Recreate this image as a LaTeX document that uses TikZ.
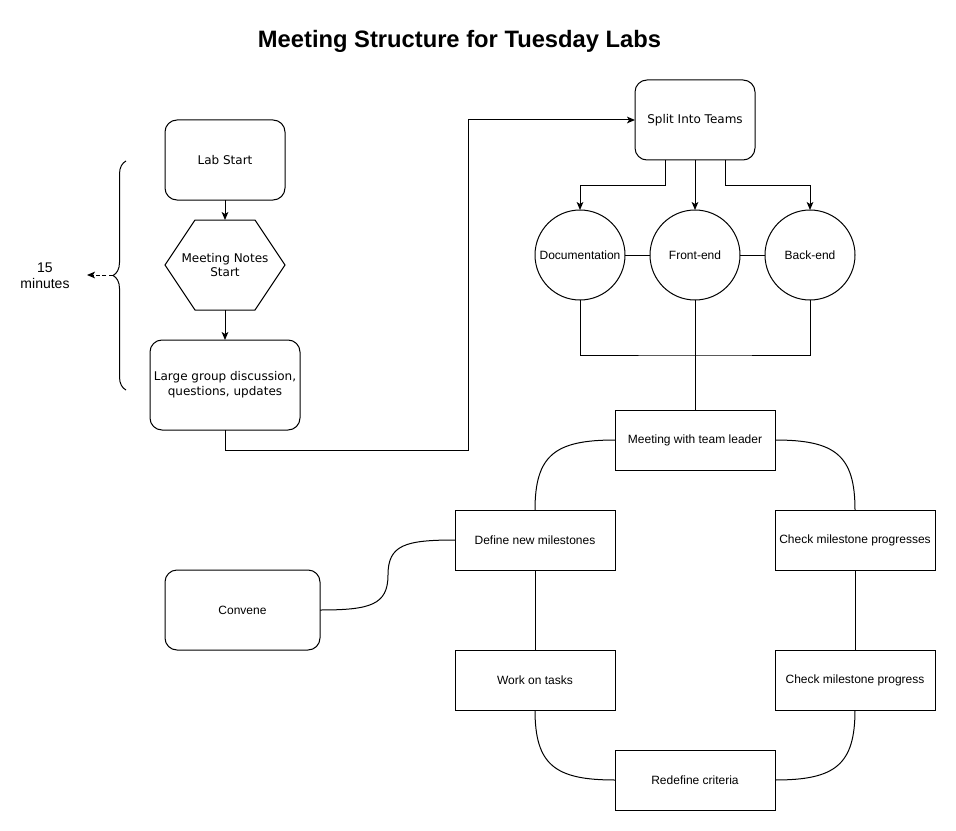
\documentclass[tikz,border=0pt]{standalone}
\usepackage{fontspec}
\setmainfont{Liberation Sans}
\newfontfamily\dvs{DejaVu Sans}
\usetikzlibrary{arrows.meta,decorations.pathreplacing,calc}
\begin{document}
\begin{tikzpicture}[x=0.75pt,y=-0.75pt, line width=0.75pt,
 every node/.style={inner sep=0pt, outer sep=0pt},
 rbox/.style={draw, rounded corners=9pt, align=center, font=\dvs\fontsize{9}{11}\selectfont},
 sbox/.style={draw, minimum width=120pt, minimum height=45pt, font=\fontsize{9}{11}\selectfont},
 team/.style={draw, circle, minimum size=67.5pt, font=\fontsize{9}{11}\selectfont},
 arr/.style={-{Stealth[length=6pt,width=5pt,inset=1.5pt]}},
]
\useasboundingbox (0,0) rectangle (956,831);
\node[font=\bfseries\fontsize{17.8}{21}\selectfont] (title) at (459.5,41) {Meeting Structure for Tuesday Labs};
\node[rbox, minimum width=90pt, minimum height=60pt] (lab) at (225,160) {Lab Start};
\node[minimum width=90pt, minimum height=67.5pt, align=center, font=\dvs\fontsize{9}{11}\selectfont] (hex) at (225,265) {Meeting Notes\\Start};
\draw (hex.west) -- ([xshift=22.5pt]hex.north west) -- ([xshift=-22.5pt]hex.north east) -- (hex.east) -- ([xshift=-22.5pt]hex.south east) -- ([xshift=22.5pt]hex.south west) -- cycle;
\node[rbox, minimum width=112.5pt, minimum height=67.5pt] (large) at (225,385) {Large group discussion,\\questions, updates};
\node[rbox, minimum width=90pt, minimum height=60pt] (split) at (695,120) {Split Into Teams};
\node[team] (doc) at (580,255) {Documentation};
\node[team] (front) at (695,255) {Front-end};
\node[team] (back) at (810,255) {Back-end};
\node[sbox] (meet) at (695,440) {Meeting with team leader};
\node[sbox] (def) at (535,540) {Define new milestones};
\node[sbox] (cmps) at (855,540) {Check milestone progresses};
\node[sbox] (work) at (535,680) {Work on tasks};
\node[sbox] (cmp) at (855,680) {Check milestone progress};
\node[sbox] (redef) at (695,780) {Redefine criteria};
\node[draw, rounded corners=9pt, minimum width=116.25pt, minimum height=60pt, font=\fontsize{9}{11}\selectfont] (conv) at (242.5,610) {Convene};
\node[font=\fontsize{10.5}{12}\selectfont, align=center] (mins) at (45,276) {15\\minutes};
% brace
\draw[decorate, decoration={brace, amplitude=9.75pt}] (126,390) -- (126,161);
\coordinate (btip) at (113,275);
\coordinate (aend) at (87,275);
\draw[arr, dash pattern=on 3pt off 2pt] (btip) -- (aend);
% connectors
\draw[arr] (lab.south) -- (hex.north);
\draw[arr] (hex.south) -- (large.north);
\coordinate (c1) at (468,450);
\draw[arr] (large.south) |- (c1) |- (split.west);
\draw[arr] ([xshift=-22.5pt]split.south) -- ++(0,25) -| (doc.north);
\draw[arr] (split.south) -- (front.north);
\draw[arr] ([xshift=22.5pt]split.south) -- ++(0,25) -| (back.north);
\draw (doc.east) -- (front.west);
\draw (front.east) -- (back.west);
\coordinate (j) at (695,355);
\draw (doc.south) |- (j) -| (back.south);
\draw (front.south) -- (meet.north);
\draw (meet.west) .. controls +(-60,0) and +(0,-55) .. (def.north);
\draw (meet.east) .. controls +(60,0) and +(0,-55) .. (cmps.north);
\draw (def.south) -- (work.north);
\draw (cmps.south) -- (cmp.north);
\draw (work.south) .. controls +(0,55) and +(-60,0) .. (redef.west);
\draw (cmp.south) .. controls +(0,55) and +(60,0) .. (redef.east);
\coordinate (sm) at (388,575);
\draw (conv.east) .. controls +(50,0) and +(0,30) .. (sm) .. controls +(0,-30) and +(-50,0) .. (def.west);
\end{tikzpicture}
\end{document}
